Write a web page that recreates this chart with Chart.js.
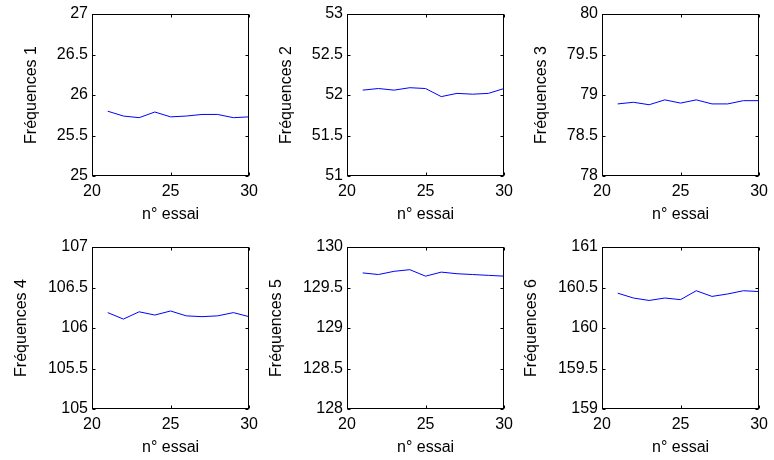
<!DOCTYPE html>
<html lang="fr">
<head>
<meta charset="utf-8">
<title>Fréquences par essai</title>
<script src="https://cdn.jsdelivr.net/npm/chart.js@4.4.1/dist/chart.umd.min.js"></script>
<style>
    html, body { margin: 0; padding: 0; background: #fff; overflow: hidden; }
    #fig { position: relative; width: 774px; height: 460px; }
    #fig canvas { position: absolute; }
</style>
</head>
<body>
<div id="fig"></div>
<script>
// --- data ---
const essais = [21, 22, 23, 24, 25, 26, 27, 28, 29, 30];
const freq1 = [25.80, 25.74, 25.72, 25.79, 25.73, 25.74, 25.76, 25.76, 25.72, 25.73];
const freq2 = [52.06, 52.08, 52.06, 52.09, 52.08, 51.98, 52.02, 52.01, 52.02, 52.08];
const freq3 = [78.89, 78.91, 78.88, 78.94, 78.90, 78.94, 78.89, 78.89, 78.93, 78.93];
const freq4 = [106.19, 106.11, 106.20, 106.16, 106.21, 106.15, 106.14, 106.15, 106.19, 106.14];
const freq5 = [129.68, 129.66, 129.70, 129.72, 129.64, 129.69, 129.67, 129.66, 129.65, 129.64];
const freq6 = [160.43, 160.37, 160.34, 160.37, 160.35, 160.46, 160.39, 160.42, 160.46, 160.45];

const series = [freq1, freq2, freq3, freq4, freq5, freq6];
const yTitles = ['Fréquences 1', 'Fréquences 2', 'Fréquences 3', 'Fréquences 4', 'Fréquences 5', 'Fréquences 6'];
const yMins = [25, 51, 78, 105, 128, 159];
const yMaxs = [27, 53, 80, 107, 130, 161];
const yStep = 0.5;
const xTicks = [20, 25, 30];
const xTitle = 'n° essai';

// --- layout (subplot boxes, in page pixels) ---
const colLeft = [92, 347, 602];
const rowTop = [14, 247];
const boxW = 160;
const boxH = 162;
const axisW = 92;      // room left of the box for tick labels + ylabel
const axisH = 54;      // room under the box for tick labels + xlabel
const padRight = 12;
const titlePad = [22, 22, 22, 12, 12, 12];

const FONT = { family: '"Liberation Sans", Arial, Helvetica, sans-serif', size: 16 };

// MATLAB-like box with inward tick marks on all four sides
const framePlugin = {
    id: 'frame',
    afterDatasetsDraw(chart) {
        const { ctx, chartArea: a, scales: { x, y } } = chart;
        const L = Math.round(a.left) + 0.5, R = Math.round(a.right) - 0.5;
        const T = Math.round(a.top) + 0.5, B = Math.round(a.bottom) - 0.5;
        const tl = 3;
        ctx.save();
        ctx.strokeStyle = '#000';
        ctx.lineWidth = 1;
        ctx.strokeRect(L, T, R - L, B - T);
        ctx.beginPath();
        x.ticks.forEach(t => {
            const px = Math.round(x.getPixelForValue(t.value)) + 0.5;
            ctx.moveTo(px, B); ctx.lineTo(px, B - tl);
            ctx.moveTo(px, T); ctx.lineTo(px, T + tl);
        });
        y.ticks.forEach(t => {
            const py = Math.round(y.getPixelForValue(t.value)) + 0.5;
            ctx.moveTo(L, py); ctx.lineTo(L + tl, py);
            ctx.moveTo(R, py); ctx.lineTo(R - tl, py);
        });
        ctx.stroke();
        ctx.restore();
    }
};

const fig = document.getElementById('fig');

series.forEach((vals, i) => {
    const col = i % 3;
    const row = Math.floor(i / 3);

    const canvas = document.createElement('canvas');
    canvas.width = axisW + boxW + padRight;
    canvas.height = rowTop[0] + boxH + axisH;
    canvas.style.left = (colLeft[col] - axisW) + 'px';
    canvas.style.top = (rowTop[row] - rowTop[0]) + 'px';
    fig.appendChild(canvas);

    new Chart(canvas, {
        type: 'line',
        data: {
            datasets: [{
                data: essais.map((e, k) => ({ x: e, y: vals[k] })),
                borderColor: '#0000ff',
                borderWidth: 1,
                pointRadius: 0,
                tension: 0,
                fill: false
            }]
        },
        options: {
            responsive: false,
            animation: false,
            devicePixelRatio: 1,
            layout: { padding: { top: rowTop[0], right: padRight, left: 0, bottom: 0 } },
            plugins: { legend: { display: false }, tooltip: { enabled: false } },
            scales: {
                x: {
                    type: 'linear',
                    min: xTicks[0],
                    max: xTicks[xTicks.length - 1],
                    afterBuildTicks: s => { s.ticks = xTicks.map(v => ({ value: v })); },
                    afterFit: s => { s.height = axisH; },
                    grid: { display: false, drawTicks: false },
                    border: { display: false },
                    ticks: {
                        color: '#000', font: FONT, padding: 6,
                        maxRotation: 0, autoSkip: false,
                        callback: v => String(v)
                    },
                    title: { display: true, text: xTitle, color: '#000', font: FONT, padding: { top: 0, bottom: 6 } }
                },
                y: {
                    min: yMins[i],
                    max: yMaxs[i],
                    ticks: {
                        stepSize: yStep, color: '#000', font: FONT, padding: 4,
                        callback: v => String(v)
                    },
                    afterFit: s => { s.width = axisW; },
                    grid: { display: false, drawTicks: false },
                    border: { display: false },
                    title: { display: true, text: yTitles[i], color: '#000', font: FONT, padding: { top: titlePad[i], bottom: 0 } }
                }
            }
        },
        plugins: [framePlugin]
    });
});
</script>
</body>
</html>
